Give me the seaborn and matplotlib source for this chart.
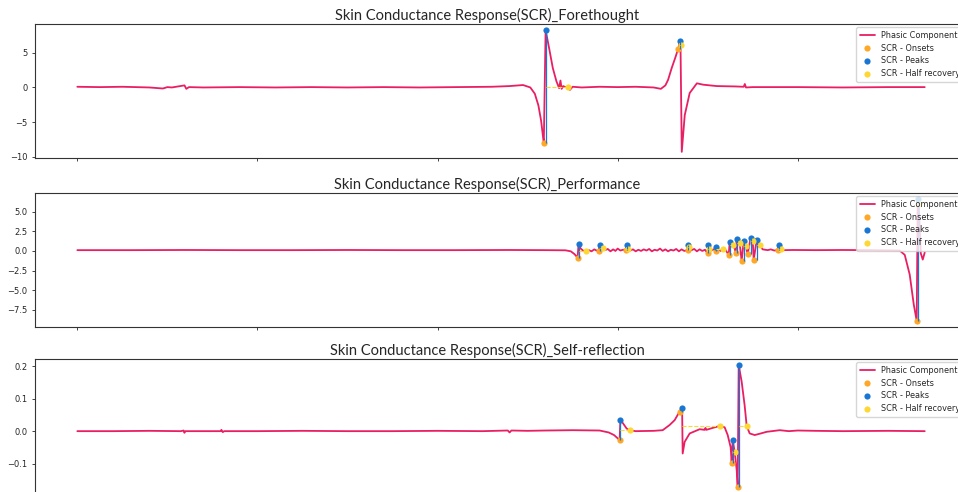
"""Skin conductance response (phasic component) for three phases."""
import matplotlib
matplotlib.use("Agg")
import matplotlib.pyplot as plt
from matplotlib.collections import LineCollection
from matplotlib.ticker import MultipleLocator
import seaborn as sns

# --- Forethought: sample index / phasic value ---
fore_x = [0, 250, 500, 800, 950, 1000, 1050, 1190, 1210, 1240,
          1400, 1800, 2200, 2600, 3000, 3400, 3800, 4200, 4600, 4800,
          4950, 5030, 5080, 5120, 5150, 5170, 5180, 5200, 5240, 5280,
          5320, 5350, 5365, 5378, 5395, 5420, 5445, 5470, 5500, 5600,
          5800, 6000, 6200, 6400, 6480, 6530, 6560, 6600, 6640, 6660,
          6675, 6688, 6698, 6712, 6745, 6800, 6880, 6950, 7100, 7300,
          7400, 7412, 7425, 7500, 8000, 8500, 9000, 9410]
fore_y = [0.1, 0.05, 0.1, 0.0, -0.15, 0.05, 0.0, 0.3, -0.2, 0.05,
          0.0, 0.05, 0.0, 0.05, 0.0, 0.05, 0.0, 0.05, 0.1, 0.2,
          0.35, 0.0, -0.9, -2.6, -4.8, -7.0, -8.0, 8.3, 5.6, 2.8,
          0.9, -0.1, 1.0, -0.2, 0.2, 0.05, 0.05, -0.35, 0.1, 0.0,
          0.1, 0.05, 0.1, 0.0, -0.2, 0.3, 1.1, 2.8, 4.3, 5.1,
          5.6, 6.7, 6.1, -9.3, -4.0, -0.8, 0.6, 0.4, 0.2, 0.15,
          0.1, 0.5, 0.0, 0.05, 0.05, 0.0, 0.05, 0.05]
fore_onsets = [5180, 6675]
fore_peaks = [5200, 6688]
fore_halfr = [5445, 6698]

# --- Performance ---
perf_x = [0, 600, 1200, 1800, 2400, 3000, 3600, 4200, 4800, 5200,
          5420, 5480, 5520, 5555, 5566, 5590, 5615, 5644, 5680, 5710,
          5740, 5765, 5788, 5799, 5833, 5860, 5890, 5920, 5950, 5975,
          6000, 6030, 6060, 6094, 6100, 6110, 6140, 6170, 6200, 6230,
          6260, 6290, 6320, 6350, 6380, 6410, 6440, 6470, 6500, 6530,
          6560, 6590, 6620, 6650, 6680, 6710, 6740, 6777, 6783, 6790,
          6820, 6850, 6880, 6910, 6940, 6970, 6999, 7005, 7015, 7040,
          7065, 7088, 7094, 7120, 7145, 7166, 7200, 7233, 7244, 7277,
          7300, 7311, 7322, 7355, 7377, 7400, 7422, 7444, 7477, 7500,
          7511, 7544, 7577, 7610, 7666, 7700, 7740, 7777, 7788, 7810,
          7850, 7950, 8200, 8500, 8800, 9132, 9188, 9243, 9288, 9321,
          9332, 9343, 9366, 9388, 9410]
perf_y = [0.1, 0.1, 0.12, 0.1, 0.1, 0.12, 0.1, 0.1, 0.12, 0.1,
          0.08, -0.05, -0.4, -0.85, 0.85, 0.3, 0.05, -0.05, 0.1, -0.05,
          0.2, 0.05, 0.0, 0.7, 0.35, 0.1, 0.25, -0.05, 0.2, 0.0,
          0.3, 0.05, 0.15, 0.1, 0.7, 0.3, 0.05, 0.2, -0.05, 0.15,
          0.0, 0.2, 0.05, 0.25, -0.05, 0.15, 0.05, 0.3, 0.0, 0.2,
          -0.05, 0.15, 0.05, 0.25, -0.05, 0.2, 0.0, 0.1, 0.75, 0.55,
          0.1, 0.25, -0.05, 0.2, 0.0, 0.15, -0.3, 0.7, 0.3, 0.05,
          0.2, 0.05, 0.55, 0.2, 0.0, 0.3, 0.1, -0.5, 1.1, 0.7,
          0.3, -0.2, 1.5, 1.0, -1.3, 1.3, 0.6, -0.4, 1.7, 1.3,
          -1.15, 1.4, 0.8, 0.2, 0.1, 0.2, 0.05, 0.1, 0.7, 0.25,
          0.1, 0.12, 0.1, 0.12, 0.1, 0.05, -0.5, -3.0, -6.8, -8.9,
          6.6, 6.0, -0.3, -1.1, -0.2]
perf_onsets = [5555, 5788, 6094, 6777, 6999, 7088, 7233, 7311, 7377, 7444, 7511, 7777, 9321]
perf_peaks = [5566, 5799, 6100, 6783, 7005, 7094, 7244, 7322, 7400, 7477, 7544, 7788, 9332]
perf_halfr = [5644, 5833, 6110, 6790, 7015, 7166, 7277, 7355, 7422, 7500, 7577, 7810, 9343]

# --- Self-reflection ---
self_x = [0, 400, 800, 1150, 1180, 1189, 1200, 1590, 1600, 1615,
          1630, 2000, 2500, 3000, 3500, 4000, 4500, 4780, 4800, 4820,
          5000, 5200, 5500, 5800, 5900, 5960, 6000, 6022, 6030, 6060,
          6100, 6133, 6200, 6400, 6500, 6577, 6633, 6666, 6688, 6711,
          6716, 6722, 6744, 6800, 6911, 6966, 6975, 6985, 7055, 7133,
          7188, 7222, 7255, 7266, 7277, 7300, 7322, 7333, 7344, 7377,
          7410, 7433, 7466, 7522, 7577, 7655, 7800, 7900, 8000, 8200,
          8500, 9000, 9410]
self_y = [0.0, 0.0, 0.001, 0.0, 0.002, -0.005, 0.0, 0.0, 0.004, -0.003,
          0.0, 0.0, 0.001, 0.0, 0.0, 0.001, 0.0, 0.002, -0.004, 0.002,
          0.001, 0.002, 0.003, 0.002, -0.004, -0.012, -0.022, -0.028, 0.034, 0.024,
          0.008, 0.003, 0.0, 0.001, 0.003, 0.019, 0.034, 0.05, 0.06, 0.072,
          0.066, -0.069, -0.033, -0.007, 0.006, 0.004, 0.01, 0.004, 0.01, 0.016,
          0.012, -0.012, -0.05, -0.098, -0.028, -0.064, -0.12, -0.172, 0.204, 0.153,
          0.08, 0.016, -0.007, -0.012, -0.008, -0.002, 0.003, 0.0, 0.002, 0.001,
          0.0, 0.001, 0.0]
self_onsets = [6022, 6688, 7266, 7333]
self_peaks = [6030, 6711, 7277, 7344]
self_halfr = [6133, 7133, 7300, 7433]

TITLES = ["Skin Conductance Response(SCR)_Forethought",
          "Skin Conductance Response(SCR)_Performance",
          "Skin Conductance Response(SCR)_Self-reflection"]


def plot_scr(ax, title, xs, ys, onsets, peaks, halfr):
    sig = dict(zip(xs, ys))
    on_y = [sig[i] for i in onsets]
    pk_y = [sig[i] for i in peaks]
    hr_y = [sig[i] for i in halfr]

    sns.lineplot(x=xs, y=ys, color="#E91E63", linewidth=1.3,
                 label="Phasic Component", ax=ax, zorder=1)
    sns.scatterplot(x=onsets, y=on_y, color="#FFA726", s=20, linewidth=0,
                    label="SCR - Onsets", ax=ax, zorder=2)
    sns.scatterplot(x=peaks, y=pk_y, color="#1976D2", s=20, linewidth=0,
                    label="SCR - Peaks", ax=ax, zorder=2)
    sns.scatterplot(x=halfr, y=hr_y, color="#FDD835", s=20, linewidth=0,
                    label="SCR - Half recovery", ax=ax, zorder=2)

    # rise time, amplitude and half-recovery segments
    rise = [[(o, oy), (p, oy)] for o, oy, p in zip(onsets, on_y, peaks)]
    amp = [[(p, py), (p, oy)] for p, py, oy in zip(peaks, pk_y, on_y)]
    half = []
    for h, hy in zip(halfr, hr_y):
        p = max(pk for pk in peaks if pk <= h)
        half.append([(p, hy), (h, hy)])
    ax.add_collection(LineCollection(rise, colors="#FFA726", linewidths=0.8, linestyles="dashed"))
    ax.add_collection(LineCollection(amp, colors="#1976D2", linewidths=0.9))
    ax.add_collection(LineCollection(half, colors="#FDD835", linewidths=0.8, linestyles="dashed"))

    ax.legend(loc="upper right", fontsize=5.9, borderpad=0.45, labelspacing=0.45,
              handlelength=1.8, borderaxespad=0.4)
    ax.set_title(title, fontsize=10.5, family="Lato", x=0.485, pad=2.5)
    ax.set_xlabel("")
    ax.tick_params(labelsize=6, length=2, width=0.6)
    ax.tick_params(axis="x", labelbottom=False)
    for sp in ax.spines.values():
        sp.set_linewidth(0.8)
        sp.set_color("#333333")


sns.set_style("ticks")
plt.rcParams["font.family"] = ["DejaVu Sans"]

fig = plt.figure(figsize=(9.58, 4.92), dpi=100)
ax1 = fig.add_axes([0.0365, 0.679, 0.973, 0.2724])
ax2 = fig.add_axes([0.0365, 0.3354, 0.973, 0.2724], sharex=ax1)
ax3 = fig.add_axes([0.0365, -0.002, 0.973, 0.2724], sharex=ax1)

plot_scr(ax1, TITLES[0], fore_x, fore_y, fore_onsets, fore_peaks, fore_halfr)
plot_scr(ax2, TITLES[1], perf_x, perf_y, perf_onsets, perf_peaks, perf_halfr)
plot_scr(ax3, TITLES[2], self_x, self_y, self_onsets, self_peaks, self_halfr)
ax1.yaxis.set_major_locator(MultipleLocator(5))

fig.savefig("out.png", dpi=100)
plt.close(fig)
